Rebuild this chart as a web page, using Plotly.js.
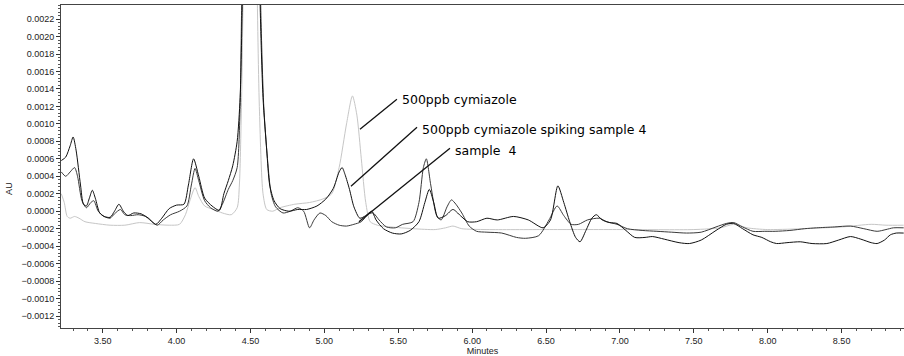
<!DOCTYPE html>
<html>
<head>
<meta charset="utf-8">
<script src="https://cdn.plot.ly/plotly-3.0.1.min.js"></script>
<style>
html,body{margin:0;padding:0;background:#fff;}
#chart{width:904px;height:356px;}
</style>
</head>
<body>
<div id="chart"></div>
<script>
// ---- Data (minutes, AU) ----
const tStd = [3.22,3.24,3.26,3.28,3.31,3.34,3.38,3.45,3.55,3.65,3.75,3.85,3.95,4.02,4.06,4.09,4.125,4.15,4.19,4.25,4.31,4.37,4.41,4.425,4.44,4.455,4.50,4.54,4.56,4.585,4.61,4.65,4.70,4.80,4.90,4.99,5.05,5.10,5.15,5.19,5.22,5.25,5.28,5.31,5.36,5.45,5.60,5.75,5.82,5.87,5.93,6.10,6.50,7.00,7.50,7.68,7.77,7.86,8.00,8.50,8.70,8.80,8.92];
const auStd = [0.0002,0.0001,-0.00006,-0.00008,-0.00006,-0.00008,-0.00012,-0.00014,-0.00016,-0.00016,-0.00013,-0.00015,-0.00016,-0.00015,-0.00004,0.00012,0.00027,0.00017,0.00006,0.00002,-0.00002,-0.00004,0.00004,0.0003,0.0013,0.003,0.006,0.003,0.0012,0.0002,0.00002,0.0,0.00004,0.00008,0.0001,0.00014,0.0002,0.0005,0.001,0.00132,0.0011,0.0006,0.0001,-0.00012,-0.00016,-0.00018,-0.0002,-0.00021,-0.00019,-0.00017,-0.0002,-0.00021,-0.00021,-0.00021,-0.00021,-0.00019,-0.00015,-0.00019,-0.00021,-0.00018,-0.00015,-0.00016,-0.00016];

const tSpike = [3.22,3.25,3.28,3.30,3.32,3.35,3.37,3.39,3.41,3.43,3.45,3.48,3.51,3.55,3.58,3.61,3.64,3.67,3.71,3.76,3.81,3.86,3.90,3.95,4.00,4.05,4.08,4.115,4.15,4.19,4.24,4.29,4.32,4.35,4.38,4.41,4.43,4.445,4.47,4.51,4.55,4.565,4.585,4.61,4.63,4.66,4.70,4.76,4.82,4.88,4.95,5.01,5.06,5.10,5.12,5.14,5.17,5.20,5.24,5.28,5.32,5.35,5.40,5.46,5.52,5.58,5.64,5.68,5.71,5.74,5.77,5.82,5.87,5.92,5.97,6.03,6.10,6.17,6.28,6.38,6.48,6.53,6.58,6.62,6.66,6.70,6.73,6.77,6.81,6.84,6.88,6.93,6.98,7.04,7.10,7.17,7.22,7.30,7.40,7.47,7.55,7.65,7.72,7.77,7.83,7.90,7.96,8.02,8.06,8.13,8.22,8.30,8.40,8.48,8.56,8.63,8.70,8.74,8.79,8.83,8.87,8.92];
const auSpike = [0.00058,0.00062,0.00075,0.00085,0.0007,0.0003,0.00008,0.00006,0.00015,0.00024,0.00015,-0.00002,-0.00006,-0.00007,0.0,0.00008,0.0,-0.00005,-0.00002,-0.00003,-0.00008,-0.00015,-0.00008,0.00003,0.00007,0.00008,0.0003,0.0006,0.0004,0.00015,0.00006,0.00001,0.0002,0.00035,0.00052,0.0008,0.0013,0.0024,0.0045,0.006,0.0045,0.0024,0.0013,0.0007,0.0003,0.00012,0.00003,0.0,0.00002,0.00002,0.00006,0.00014,0.00026,0.00045,0.0005,0.00042,0.00025,0.00005,-0.00008,-0.00005,0.0,-0.0001,-0.0002,-0.00025,-0.00026,-0.00022,-0.00012,0.0001,0.00025,0.0001,-0.00008,-0.00005,0.00002,-0.00005,-0.00012,-0.00012,-0.00008,-0.0001,-0.00006,-0.0001,-0.00019,-0.0001,0.00029,0.0001,-0.00012,-0.0003,-0.00035,-0.00022,-0.00008,-0.00004,-0.0001,-0.00013,-0.00014,-0.00022,-0.0003,-0.0003,-0.00029,-0.00032,-0.00036,-0.00037,-0.00033,-0.00022,-0.00015,-0.00014,-0.0002,-0.00027,-0.0003,-0.00035,-0.00037,-0.00036,-0.00035,-0.00037,-0.00037,-0.00033,-0.00029,-0.00032,-0.00036,-0.00037,-0.00033,-0.00027,-0.00025,-0.00025];

const tSample = [3.22,3.25,3.28,3.31,3.33,3.36,3.39,3.42,3.44,3.47,3.51,3.55,3.58,3.62,3.65,3.69,3.74,3.79,3.84,3.87,3.91,3.96,4.02,4.07,4.10,4.125,4.15,4.19,4.23,4.28,4.31,4.35,4.38,4.41,4.43,4.44,4.465,4.51,4.555,4.57,4.59,4.615,4.64,4.67,4.72,4.77,4.82,4.86,4.90,4.93,4.97,5.01,5.05,5.10,5.15,5.20,5.25,5.30,5.33,5.37,5.42,5.48,5.53,5.60,5.64,5.67,5.69,5.72,5.76,5.79,5.83,5.86,5.89,5.93,5.98,6.03,6.10,6.20,6.30,6.36,6.45,6.52,6.575,6.62,6.67,6.72,6.78,6.86,6.91,6.98,7.05,7.15,7.25,7.35,7.45,7.55,7.65,7.72,7.77,7.83,7.90,7.98,8.05,8.15,8.25,8.33,8.45,8.56,8.65,8.74,8.80,8.85,8.92];
const auSample = [0.00045,0.0004,0.00045,0.0005,0.0004,0.00012,0.00004,0.0001,0.00012,0.0,-0.00006,-0.00008,-0.00003,0.00002,-0.00004,-0.00005,-0.00004,-0.00006,-0.00013,-0.00016,-0.0001,-0.00004,0.0,0.00006,0.0003,0.00049,0.00035,0.00012,0.00004,0.0,0.00008,0.00025,0.00035,0.0005,0.0012,0.0023,0.0045,0.0058,0.0045,0.0023,0.0012,0.0006,0.0002,0.00005,-0.00002,0.0,0.00004,0.0,-0.00019,-0.0001,-0.00002,-0.00005,-0.00012,-0.00016,-0.00017,-0.00015,-0.00012,-0.00003,-0.00002,-0.0001,-0.00018,-0.00019,-0.00015,-0.00012,0.0001,0.0005,0.0006,0.0003,-0.00005,-0.0001,0.00005,0.00013,0.00008,-0.00002,-0.00017,-0.00023,-0.00024,-0.00025,-0.0003,-0.00031,-0.00028,-0.0001,0.00006,-0.00005,-0.00015,-0.00015,-0.0001,-0.00008,-0.00012,-0.00015,-0.0002,-0.00022,-0.00023,-0.00024,-0.00025,-0.00024,-0.00018,-0.00014,-0.00013,-0.00018,-0.00023,-0.00023,-0.00023,-0.00022,-0.0002,-0.00019,-0.00018,-0.00017,-0.0002,-0.00023,-0.00021,-0.00019,-0.00019];

const seriesNames = ["500ppb cymiazole","500ppb cymiazole spiking sample 4","sample  4"];
const xTickVals = [3.5,4.0,4.5,5.0,5.5,6.0,6.5,7.0,7.5,8.0,8.5];
const xTickText = ["3.50","4.00","4.50","5.00","5.50","6.00","6.50","7.00","7.50","8.00","8.50"];

// ---- Traces ----
const lineCommon = {shape:'spline', smoothing:0.7, width:1};
const traces = [
  {x:tStd, y:auStd, name:seriesNames[0], mode:'lines', line:Object.assign({color:'#c6c6c6'}, lineCommon), hoverinfo:'skip'},
  {x:tSample, y:auSample, name:seriesNames[2], mode:'lines', line:Object.assign({color:'#3a3a3a'}, lineCommon), hoverinfo:'skip'},
  {x:tSpike, y:auSpike, name:seriesNames[1], mode:'lines', line:Object.assign({color:'#111111'}, lineCommon), hoverinfo:'skip'}
];

// ---- Labels with leader lines ----
const labelFont = {family:'DejaVu Sans, sans-serif', size:12.5, color:'#000'};
const labels = [
  {text:seriesNames[0], tx:5.512, ty:0.001282, lx0:5.491, ly0:0.001282, lx1:5.241, ly1:0.000939},
  {text:seriesNames[1], tx:5.647, ty:0.000939, lx0:5.627, ly0:0.000962, lx1:5.180, ly1:0.000286},
  {text:seriesNames[2], tx:5.870, ty:0.000698, lx0:5.850, ly0:0.000721, lx1:5.234, ly1:-0.00012}
];

const annotations = labels.map(l => ({
  x:l.tx, y:l.ty, xref:'x', yref:'y', text:l.text, showarrow:false,
  xanchor:'left', yanchor:'middle', font:labelFont
}));
annotations.push({
  text:'AU', xref:'paper', yref:'paper', x:-0.062, y:0.433, showarrow:false,
  textangle:-90, font:{family:'Liberation Sans, Arial, sans-serif', size:9, color:'#222'},
  xanchor:'center', yanchor:'middle'
});
const shapes = labels.map(l => ({
  type:'line', xref:'x', yref:'y', x0:l.lx0, y0:l.ly0, x1:l.lx1, y1:l.ly1,
  line:{color:'#111', width:1.3}
}));

const tickFont = {family:'Liberation Sans, Arial, sans-serif', size:9, color:'#222'};

const layout = {
  width:904, height:356,
  margin:{l:61, r:0, t:5, b:28, pad:0},
  paper_bgcolor:'#fff', plot_bgcolor:'#fff',
  showlegend:false,
  xaxis:{
    range:[3.218, 8.922], tickvals:xTickVals, ticktext:xTickText,
    ticks:'outside', ticklen:4, tickwidth:1, tickcolor:'#333',
    minor:{dtick:0.1, ticks:'outside', ticklen:2, tickcolor:'#555', showgrid:false},
    showgrid:false, zeroline:false, showline:true, linecolor:'#444', linewidth:1,
    mirror:true, tickfont:tickFont, automargin:false,
    title:{text:'Minutes', font:tickFont, standoff:2}
  },
  yaxis:{
    range:[-0.001337, 0.002361], dtick:0.0002, tick0:0, tickformat:'.4f',
    ticks:'outside', ticklen:4, tickwidth:1, tickcolor:'#333',
    minor:{dtick:0.00004, ticks:'outside', ticklen:2, tickcolor:'#555', showgrid:false},
    showgrid:false, zeroline:false, showline:true, linecolor:'#444', linewidth:1,
    tickfont:tickFont, automargin:false
  },
  annotations:annotations,
  shapes:shapes
};

Plotly.newPlot('chart', traces, layout, {displayModeBar:false, staticPlot:true});
</script>
</body>
</html>
